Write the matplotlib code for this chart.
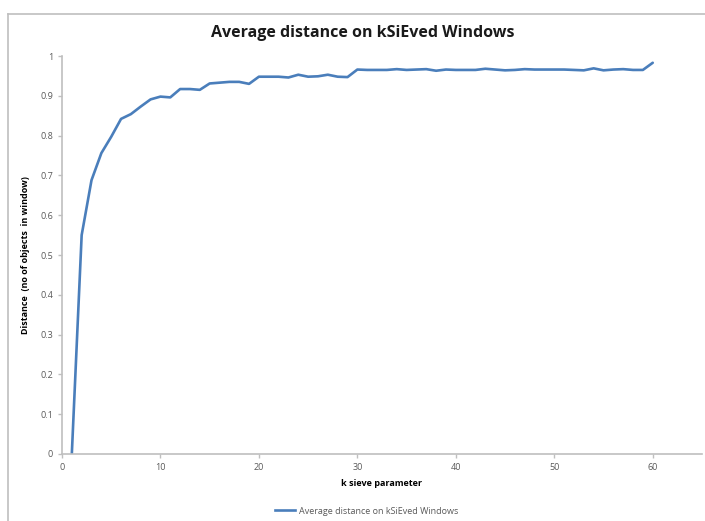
import matplotlib.pyplot as plt
from matplotlib.lines import Line2D

# k sieve parameter (1..60) and average distance
k_values = list(range(1, 61))
avg_distance = [
    0.0, 0.55, 0.688, 0.756, 0.797, 0.842, 0.854, 0.873, 0.891, 0.898,
    0.896, 0.917, 0.917, 0.915, 0.931, 0.933, 0.935, 0.935, 0.930, 0.948,
    0.948, 0.948, 0.946, 0.953, 0.948, 0.949, 0.953, 0.948, 0.947, 0.966,
    0.965, 0.965, 0.965, 0.967, 0.965, 0.966, 0.967, 0.963, 0.966, 0.965,
    0.965, 0.965, 0.968, 0.966, 0.964, 0.965, 0.967, 0.966, 0.966, 0.966,
    0.966, 0.965, 0.964, 0.969, 0.964, 0.966, 0.967, 0.965, 0.965, 0.983,
]
x_ticks = [0, 10, 20, 30, 40, 50, 60]
y_ticks = [0, 0.1, 0.2, 0.3, 0.4, 0.5, 0.6, 0.7, 0.8, 0.9, 1]
series_name = 'Average distance on kSiEved Windows'

plt.rcParams['font.family'] = ['Open Sans', 'DejaVu Sans']

fig = plt.figure(figsize=(7.05, 5.21), dpi=100)
ax = fig.add_axes([0.0879, 0.1286, 0.9078, 0.7639])

line_color = '#4A7EBB'
ax.plot(k_values, avg_distance, color=line_color, linewidth=1.9,
        solid_capstyle='round')

ax.set_xlim(0, 65)
ax.set_ylim(0, 1)
ax.set_xticks(x_ticks)
ax.set_yticks(y_ticks)
ax.set_yticklabels(['0', '0.1', '0.2', '0.3', '0.4', '0.5', '0.6', '0.7',
                    '0.8', '0.9', '1'])

# Excel-like axes: light grey lines, no top/right spines
for side in ['top', 'right']:
    ax.spines[side].set_visible(False)
for side in ['left', 'bottom']:
    ax.spines[side].set_color('#BFBFBF')
    ax.spines[side].set_linewidth(1.2)
ax.tick_params(axis='both', colors='#BFBFBF', labelcolor='#595959',
               labelsize=6.5, length=3, width=1)

ax.set_xlabel('k sieve parameter', fontsize=6.5, fontweight='bold',
              labelpad=5)
ax.set_ylabel('Distance  (no of objects  in window)', fontsize=6.5,
              fontweight='bold', labelpad=7)

fig.text(0.515, 0.936, 'Average distance on kSiEved Windows', ha='center',
         va='center', fontsize=11.5, fontweight='bold', color='#1a1a1a')

# legend below the plot
handle = Line2D([], [], color=line_color, linewidth=1.9)
fig.legend([handle], [series_name], loc='center', bbox_to_anchor=(0.52, 0.019),
           frameon=False, fontsize=6.5, handlelength=2.2, handletextpad=0.4,
           labelcolor='#595959')

# chart area border (cropped on the right and bottom)
fig.add_artist(Line2D([0.012, 0.012], [0.0, 0.974], color='#BFBFBF',
                      linewidth=1.2, transform=fig.transFigure))
fig.add_artist(Line2D([0.012, 1.0], [0.974, 0.974], color='#BFBFBF',
                      linewidth=1.2, transform=fig.transFigure))

plt.savefig('out.png', dpi=100)
